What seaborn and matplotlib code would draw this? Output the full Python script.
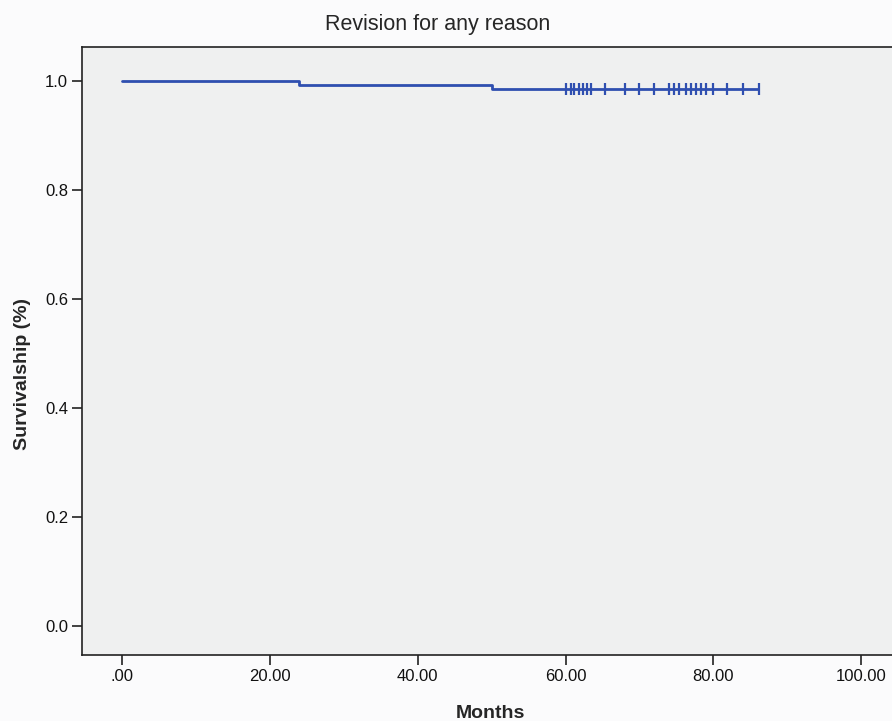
import pandas as pd
import seaborn as sns
import matplotlib.pyplot as plt
import matplotlib.ticker as ticker

# Kaplan-Meier step points (months, survival)
step_months = [0, 24, 50, 86]
step_survival = [1.0, 0.993, 0.986, 0.986]

# censored observations (months)
censor_months = [60.1, 60.7, 61.2, 61.8, 62.3, 62.9, 63.4, 65.3, 68.0, 70.0, 72.0,
                 74.0, 74.7, 75.4, 76.3, 77.0, 77.6, 78.3, 79.0, 79.9, 81.9, 84.0, 86.2]

x_ticks = [0, 20, 40, 60, 80, 100]
y_ticks = [0.0, 0.2, 0.4, 0.6, 0.8, 1.0]

LINE_COLOR = "#2f4fb0"


def main():
    sns.set_theme(style="ticks")
    plt.rcParams["font.family"] = ["Liberation Sans", "DejaVu Sans"]

    steps = pd.DataFrame({"months": step_months, "survival": step_survival})
    censored = pd.DataFrame({"months": censor_months,
                             "survival": [step_survival[-1]] * len(censor_months)})

    fig = plt.figure(figsize=(8.92, 7.21), dpi=100, facecolor="#fbfbfc")
    ax = fig.add_axes([0.092, 0.0916, 0.915, 0.843])
    ax.set_facecolor("#eff0f0")

    sns.lineplot(data=steps, x="months", y="survival", drawstyle="steps-post",
                 color=LINE_COLOR, linewidth=2, ax=ax)
    sns.scatterplot(data=censored, x="months", y="survival", marker="|", s=70,
                    color=LINE_COLOR, linewidth=1.6, ax=ax)

    ax.set_xlim(-5.4, 105)
    ax.set_ylim(-0.053, 1.062)
    ax.set_xticks(x_ticks)
    ax.set_yticks(y_ticks)
    ax.xaxis.set_major_formatter(ticker.FuncFormatter(
        lambda v, p: ".00" if v == 0 else f"{v:.2f}"))
    ax.yaxis.set_major_formatter(ticker.FormatStrFormatter("%.1f"))
    ax.tick_params(labelsize=12, length=7, width=1.2, pad=3,
                   color="#222222", labelcolor="#111111")

    for side in ax.spines.values():
        side.set_color("#222222")
        side.set_linewidth(1.2)

    ax.set_xlabel("Months", fontsize=14, fontweight="bold", labelpad=15)
    ax.set_ylabel("Survivalship (%)", fontsize=14, fontweight="bold")
    ax.yaxis.set_label_coords(-0.0625, 0.462)
    ax.set_title("Revision for any reason", fontsize=15.5, x=0.436, pad=12)

    fig.savefig("out.png", dpi=100, facecolor=fig.get_facecolor())


if __name__ == '__main__':
    main()
